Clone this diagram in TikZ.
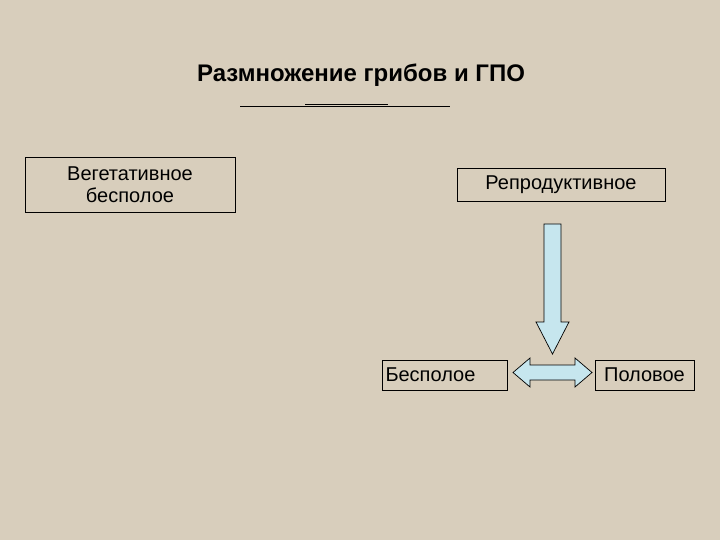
\documentclass[tikz,border=0pt]{standalone}
\usepackage{fontspec}
\setmainfont{Liberation Sans}
\definecolor{bg}{HTML}{D8CEBC}
\definecolor{arr}{HTML}{C6E6EE}
\begin{document}
\begin{tikzpicture}[x=1pt,y=-1pt,
  box/.style={draw=black,line width=0.8pt,inner sep=0pt,font=\fontsize{20}{22}\selectfont,align=center},
  fat/.style={draw=black,line width=0.7pt,fill=arr}]
\fill[bg] (0,0) rectangle (720,540);
\useasboundingbox (0,0) rectangle (720,540);
\node[font=\bfseries\fontsize{24}{28}\selectfont] (title) at (361,75) {Размножение грибов и ГПО};
\coordinate (l1) at (240,106); \coordinate (l2) at (450,106);
\draw[line width=0.5pt] (l1) -- (l2);
\draw[line width=1.5pt] (305,104.5) -- (388,104.5);
\node[box,minimum width=210,minimum height=55] (veg) at (130,184.5) {Вегетативное\\бесполое};
\node[box,minimum width=208,minimum height=33] (rep) at (561,184.5) {Репродуктивное};
\node[box,minimum width=125,minimum height=30,text width=118,align=left] (bes) at (444.5,375) {Бесполое};
\node[box,minimum width=99,minimum height=30] (pol) at (644.5,375) {Половое};
\draw[fat] (544,224) -- (561,224) -- (561,322) -- (569,322) -- (552.5,354) -- (536,322) -- (544,322) -- cycle;
\draw[fat] (513,372.5) -- (530,358) -- (530,365) -- (575,365) -- (575,358) -- (592,372.5) -- (575,387) -- (575,380) -- (530,380) -- (530,387) -- cycle;
\end{tikzpicture}
\end{document}
